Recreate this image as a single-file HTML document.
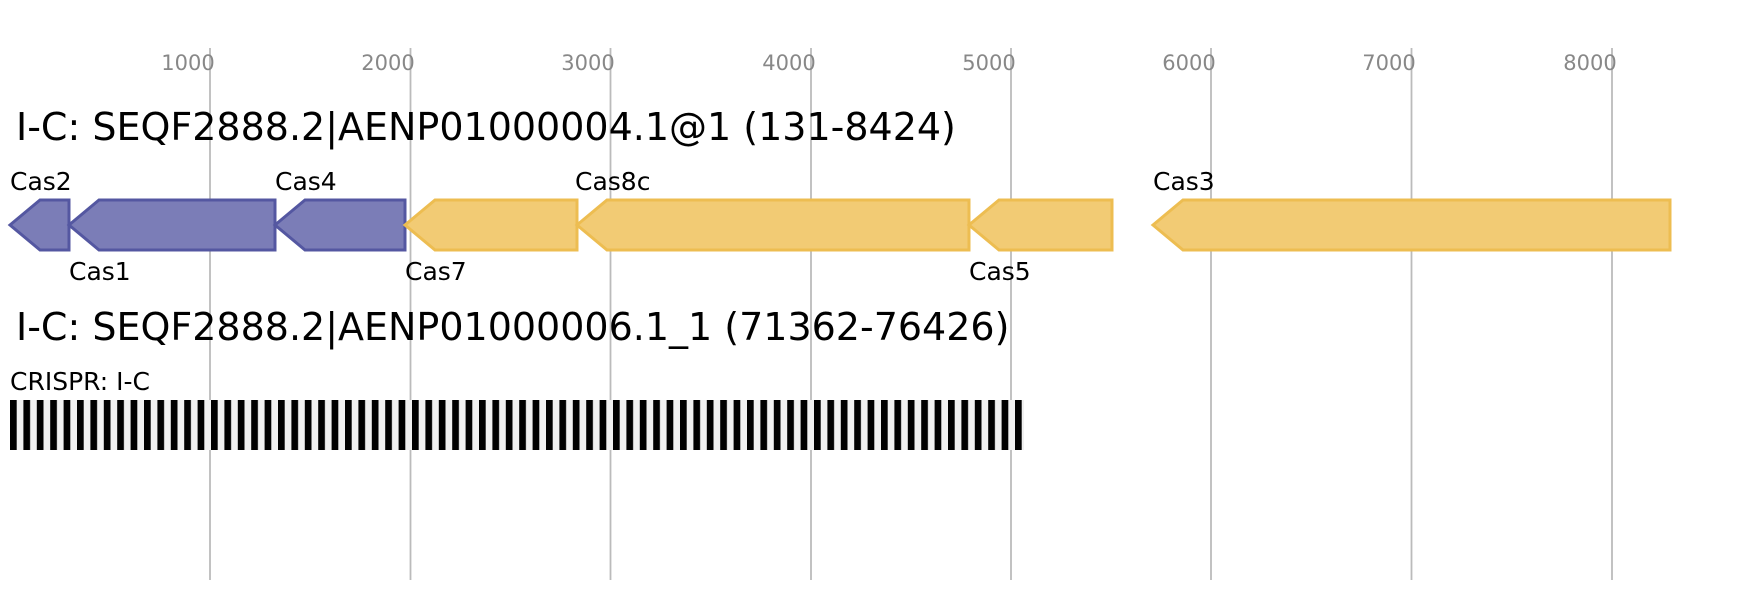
<!DOCTYPE html>
<html><head><style>body{margin:0;background:#fff}</style></head><body>
<svg width="1759" height="600" xmlns="http://www.w3.org/2000/svg" font-family="DejaVu Sans, Liberation Sans, sans-serif">
<defs><pattern id="cr" x="10" y="0" width="13.4" height="600" patternUnits="userSpaceOnUse"><rect x="0" y="0" width="13.4" height="600" fill="#f0f0f0"/><rect x="0" y="0" width="6.7" height="600" fill="#000"/></pattern></defs>
<g stroke="#bbb" stroke-width="1.8">
<line x1="210" y1="48" x2="210" y2="580"/><line x1="410.5" y1="48" x2="410.5" y2="580"/><line x1="610.5" y1="48" x2="610.5" y2="580"/><line x1="811" y1="48" x2="811" y2="580"/><line x1="1011" y1="48" x2="1011" y2="580"/><line x1="1211" y1="48" x2="1211" y2="580"/><line x1="1411.5" y1="48" x2="1411.5" y2="580"/><line x1="1612" y1="48" x2="1612" y2="580"/>
</g>
<g fill="#888" font-size="21" text-anchor="middle">
<text x="188" y="70">1000</text><text x="388" y="70">2000</text><text x="588" y="70">3000</text><text x="789" y="70">4000</text><text x="989" y="70">5000</text><text x="1189" y="70">6000</text><text x="1389" y="70">7000</text><text x="1590" y="70">8000</text>
</g>
<text x="16" y="140" font-size="38">I-C: SEQF2888.2|AENP01000004.1@1 (131-8424)</text>
<text x="16" y="340" font-size="38">I-C: SEQF2888.2|AENP01000006.1_1 (71362-76426)</text>
<g stroke-width="3" stroke-linejoin="miter">
<g fill="#7b7db7" stroke="#5457a1">
<polygon points="10,225 40,200 69,200 69,250 40,250"/>
<polygon points="69,225 99,200 275,200 275,250 99,250"/>
<polygon points="275,225 305,200 405,200 405,250 305,250"/>
</g>
<g fill="#f2cb74" stroke="#edbd51">
<polygon points="405,225 435,200 577,200 577,250 435,250"/>
<polygon points="577,225 607,200 969,200 969,250 607,250"/>
<polygon points="969,225 999,200 1112,200 1112,250 999,250"/>
<polygon points="1153,225 1183,200 1670,200 1670,250 1183,250"/>
</g></g>
<g font-size="25" fill="#000">
<text x="10" y="190">Cas2</text><text x="275" y="190">Cas4</text><text x="575" y="190">Cas8c</text><text x="1153" y="190">Cas3</text>
<text x="69" y="280">Cas1</text><text x="405" y="280">Cas7</text><text x="969" y="280">Cas5</text>
<text x="10" y="390">CRISPR: I-C</text>
</g>
<rect x="10" y="400" width="1014" height="50" fill="url(#cr)"/>
</svg>
</body></html>
